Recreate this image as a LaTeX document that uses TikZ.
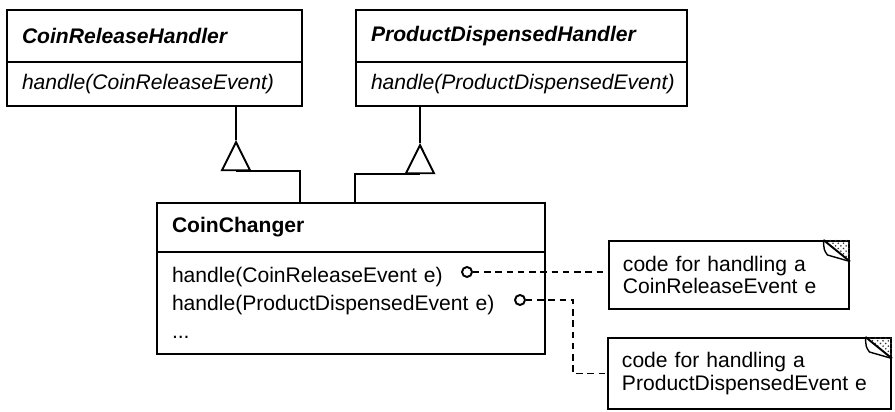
\documentclass[tikz,border=0pt]{standalone}
\usepackage{fontspec}
\setmainfont{Liberation Sans}
\usepackage{tikz}
\usetikzlibrary{positioning,calc,shapes.geometric,patterns}

\begin{document}
\begin{tikzpicture}[
    every node/.style={font=\fontsize{12}{15.9}\selectfont},
    part/.style={draw, line width=1.1pt, outer sep=0pt, inner xsep=0.3cm, inner ysep=0pt, align=left},
    gen/.style={draw, fill=white, line width=1.1pt, isosceles triangle, isosceles triangle apex angle=53, shape border rotate=90, inner sep=0pt, minimum width=0.56cm, minimum height=0.56cm},
    hook/.style={draw, circle, fill=white, line width=1.1pt, inner sep=0pt, minimum size=0.2cm},
    memo/.style={draw, line width=1.1pt, inner xsep=0.28cm, inner ysep=0pt, align=left, font=\fontsize{12}{13}\selectfont},
    link/.style={line width=1pt, dash pattern=on 3.6pt off 2.8pt}
]
    \useasboundingbox (0,0) rectangle (17.9,8.24);

    \node [part, anchor=north west, text width=5.3cm, minimum height=1.04cm] (release) at (0.14,8.04) {\textbf{\textit{CoinReleaseHandler}}};
    \node [part, text width=5.3cm, minimum height=0.88cm, below=0pt of release] (releaseops) {\textit{handle(CoinReleaseEvent)}};

    \node [part, anchor=north west, text width=6.02cm, minimum height=1.04cm] (dispensed) at (7.12,8.04) {\textbf{\textit{ProductDispensedHandler}}};
    \node [part, text width=6.02cm, minimum height=0.88cm, below=0pt of dispensed] (dispensedops) {\textit{handle(ProductDispensedEvent)}};

    \node [part, anchor=north west, text width=7.16cm, minimum height=0.98cm] (changer) at (3.14,4.18) {\textbf{CoinChanger}};
    \node [part, text width=7.16cm, minimum height=2.04cm, below=0pt of changer] (changerops) {handle(CoinReleaseEvent e)\\handle(ProductDispensedEvent e)\\...};

    \node [gen, anchor=apex] (t1) at (4.72,5.44) {};
    \node [gen, anchor=apex] (t2) at (8.4,5.38) {};

    \coordinate (j1) at ([xshift=2.86cm]changer.north west);
    \coordinate (j2) at ([xshift=3.96cm]changer.north west);

    \draw [line width=1.1pt] (releaseops.south -| t1.apex) -- (t1.apex);
    \draw [line width=1.1pt] (dispensedops.south -| t2.apex) -- (t2.apex);
    \draw [line width=1.1pt] (j1) |- (t1.lower side);
    \draw [line width=1.1pt] (j2) |- (t2.lower side);

    \node [memo, anchor=north west, text width=4.24cm, minimum height=1.36cm] (note1) at (12.16,3.44) {code for handling a\\CoinReleaseEvent e};
    \node [memo, anchor=north west, text width=5.1cm, minimum height=1.42cm] (note2) at (12.14,1.5) {code for handling a\\ProductDispensedEvent e};

    \foreach \n in {note1,note2} {
        \fill [pattern=crosshatch dots, pattern color=black!80] ([xshift=-0.53cm]\n.north east) -- (\n.north east) -- ([yshift=-0.43cm]\n.north east) -- cycle;
        \draw [line width=1.1pt] ([xshift=-0.53cm]\n.north east) -- ([yshift=-0.43cm]\n.north east);
        \draw [line width=0.8pt] ([xshift=-0.53cm]\n.north east) .. controls ([xshift=-0.52cm,yshift=-0.2cm]\n.north east) .. ([xshift=-0.45cm,yshift=-0.3cm]\n.north east) -- ([yshift=-0.43cm]\n.north east);
    }

    \node [hook] (c1) at (9.34,2.8) {};
    \node [hook] (c2) at (10.4,2.24) {};
    \coordinate (bend) at (11.46,2.24);

    \draw [link] (c1) -- (c1 -| note1.west);
    \draw [link] (c2) -- (bend) |- (note2.west);
\end{tikzpicture}
\end{document}
